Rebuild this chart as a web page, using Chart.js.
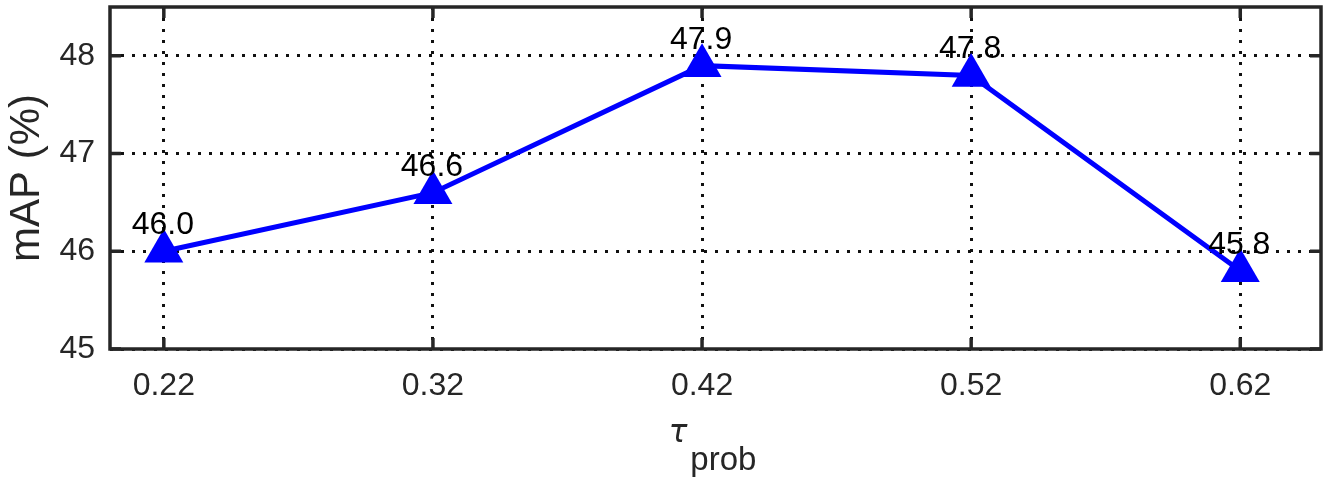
<!DOCTYPE html>
<html><head><meta charset="utf-8">
<script src="https://cdn.jsdelivr.net/npm/chart.js@4.4.0/dist/chart.umd.min.js"></script>
<style>html,body{margin:0;padding:0;background:#fff}#wrap{width:1330px;height:482px;position:relative}</style>
</head><body><div id="wrap"><canvas id="c"></canvas></div>
<script>
const xValues = [0.22, 0.32, 0.42, 0.52, 0.62];
const mapValues = [46.0, 46.6, 47.9, 47.8, 45.8];
const xTicks = [0.22, 0.32, 0.42, 0.52, 0.62];
const yTicks = [45, 46, 47, 48];
const yTitle = 'mAP (%)';
const xTitleMain = 'τ';
const xTitleSub = 'prob';

const AX = '#262626';
const FONT = "'Liberation Sans', Arial, Helvetica, sans-serif";

const framePlugin = {
  id: 'frame',
  beforeDatasetsDraw(chart) {
    const {ctx, chartArea: a, scales} = chart;
    ctx.save();
    ctx.strokeStyle = AX;
    ctx.lineWidth = 3.5;
    ctx.lineCap = 'butt';
    const tl = 11;
    ctx.beginPath();
    scales.x.ticks.forEach(t => {
      const px = scales.x.getPixelForValue(t.value);
      ctx.moveTo(px, a.bottom); ctx.lineTo(px, a.bottom - tl);
      ctx.moveTo(px, a.top); ctx.lineTo(px, a.top + tl);
    });
    scales.y.ticks.forEach(t => {
      const py = scales.y.getPixelForValue(t.value);
      ctx.moveTo(a.left, py); ctx.lineTo(a.left + tl, py);
      ctx.moveTo(a.right, py); ctx.lineTo(a.right - tl, py);
    });
    ctx.stroke();
    ctx.strokeRect(a.left, a.top, a.right - a.left, a.bottom - a.top);
    ctx.restore();
  },
  afterDatasetsDraw(chart) {
    const {ctx} = chart;
    const meta = chart.getDatasetMeta(0);
    ctx.save();
    ctx.fillStyle = '#000';
    ctx.font = '32px ' + FONT;
    ctx.textAlign = 'center';
    ctx.textBaseline = 'alphabetic';
    meta.data.forEach((pt, i) => {
      ctx.fillText(mapValues[i].toFixed(1), pt.x - 1, pt.y - 17);
    });
    ctx.restore();
  },
  afterDraw(chart) {
    const {ctx, chartArea: a} = chart;
    ctx.save();
    ctx.fillStyle = AX;
    ctx.textBaseline = 'alphabetic';
    ctx.textAlign = 'left';
    const mainFont = "oblique 31px 'DejaVu Sans', sans-serif";
    const subFont = '33px ' + FONT;
    ctx.font = mainFont;
    const w1 = ctx.measureText(xTitleMain).width;
    ctx.font = subFont;
    const w2 = ctx.measureText(xTitleSub).width;
    const gap = 3;
    const total = w1 + gap + w2;
    const cx = (a.left + a.right) / 2 - 3;
    const x0 = cx - total / 2;
    ctx.font = mainFont;
    ctx.fillText(xTitleMain, x0, 442);
    ctx.font = subFont;
    ctx.fillText(xTitleSub, x0 + w1 + gap, 470);
    ctx.restore();
  }
};

new Chart(document.getElementById('c'), {
  type: 'line',
  data: {
    datasets: [{
      data: xValues.map((x, i) => ({x: x, y: mapValues[i]})),
      borderColor: '#0000ff',
      backgroundColor: '#0000ff',
      borderWidth: 5,
      pointStyle: 'triangle',
      pointRadius: 22.5,
      pointHoverRadius: 22.5,
      pointBorderWidth: 0,
      pointBackgroundColor: '#0000ff',
      tension: 0,
      clip: false
    }]
  },
  options: {
    responsive: true,
    maintainAspectRatio: false,
    animation: false,
    events: [],
    layout: {autoPadding: false, padding: {top: 7, right: 9, left: 0, bottom: 0}},
    plugins: {legend: {display: false}, tooltip: {enabled: false}},
    scales: {
      x: {
        type: 'linear',
        min: 0.2,
        max: 0.65,
        afterBuildTicks: s => { s.ticks = xTicks.map(v => ({value: v})); },
        afterFit: s => { s.height = 133; s.paddingLeft = 0; s.paddingRight = 0; s.paddingTop = 0; s.paddingBottom = 0; },
        ticks: {
          callback: v => Number(v).toFixed(2),
          font: {size: 32, family: FONT},
          color: AX,
          padding: 18,
          maxRotation: 0,
          autoSkip: false
        },
        grid: {color: '#111', lineWidth: 3, drawTicks: false, borderDash: [3, 8]},
        border: {display: false, dash: [3, 8]}
      },
      y: {
        type: 'linear',
        min: 45,
        max: 48.5,
        afterBuildTicks: s => { s.ticks = yTicks.map(v => ({value: v})); },
        afterFit: s => { s.width = 110; s.paddingLeft = 0; s.paddingRight = 0; s.paddingTop = 0; s.paddingBottom = 0; },
        ticks: {
          callback: v => String(v),
          font: {size: 32, family: FONT},
          color: AX,
          padding: 15
        },
        grid: {color: '#111', lineWidth: 3, drawTicks: false, borderDash: [3, 8]},
        border: {display: false, dash: [3, 8]},
        title: {
          display: true,
          text: yTitle,
          color: AX,
          font: {size: 42, family: FONT, lineHeight: 1.2},
          padding: {top: 2, bottom: 0}
        }
      }
    }
  },
  plugins: [framePlugin]
});
</script>
</body></html>
